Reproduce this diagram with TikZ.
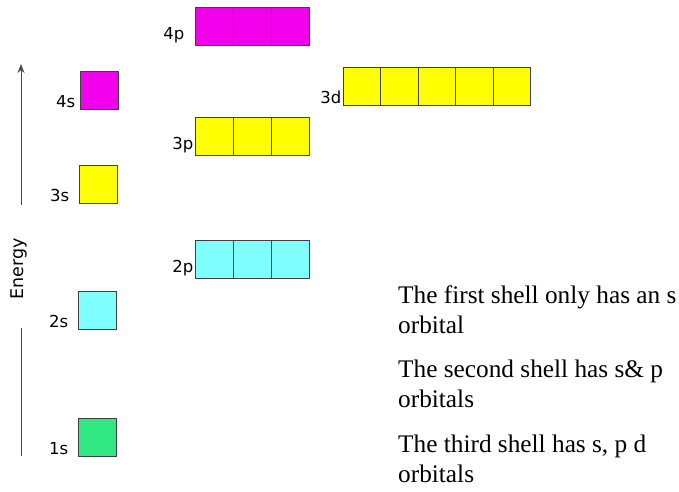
\documentclass[tikz,border=0pt]{standalone}
\usepackage{fontspec}
\setmainfont{Liberation Serif}
\newfontfamily\lblfont{DejaVu Sans}
\usetikzlibrary{arrows.meta,positioning}
\definecolor{orbgreen}{RGB}{50,232,130}
\definecolor{orbcyan}{RGB}{128,255,255}
\definecolor{orbyellow}{RGB}{255,255,0}
\definecolor{orbmagenta}{RGB}{240,0,235}
\begin{document}
\begin{tikzpicture}[
  x=1pt,y=-1pt,
  orb/.style={draw=black!75,line width=0.8pt,minimum size=38pt,inner sep=0pt,outer sep=0pt},
  lbl/.style={font=\lblfont\fontsize{16.5}{18}\selectfont,anchor=south east,inner sep=1.5pt},
  note/.style={font=\fontsize{25.3}{30}\selectfont,align=left,anchor=north west,inner sep=0pt}
]
  \useasboundingbox (0,0) rectangle (679,491);
  % Energy axis
  \node[font=\lblfont\fontsize{17.5}{19}\selectfont,rotate=90] (energy) at (19,269) {Energy};
  \coordinate (e1) at (21,456);
  \coordinate (e2) at (21,328);
  \coordinate (e3) at (21,205);
  \coordinate (e4) at (21,64);
  \draw[black!70,line width=0.9pt] (e1) -- (e2);
  \draw[black!70,line width=0.9pt,-{Stealth[length=9pt,width=7pt]}] (e3) -- (e4);
  % s orbitals
  \node[orb,fill=orbgreen] (s1) at (97,437) {};
  \node[lbl,xshift=-8pt] at (s1.south west) {1s};
  \node[orb,fill=orbcyan] (s2) at (97,310) {};
  \node[lbl,xshift=-8pt] at (s2.south west) {2s};
  \node[orb,fill=orbyellow] (s3) at (98,184) {};
  \node[lbl,xshift=-8pt] at (s3.south west) {3s};
  \node[orb,fill=orbmagenta] (s4) at (99,90) {};
  \node[lbl,xshift=-3pt] at (s4.south west) {4s};
  % p orbitals
  \foreach \i in {1,2,3} {
    \node[orb,fill=orbcyan] (p2-\i) at (195+38*\i-19,259) {};
    \node[orb,fill=orbyellow] (p3-\i) at (195+38*\i-19,136) {};
    \node[orb,fill=orbmagenta] (p4-\i) at (195+38*\i-19,26) {};
  }
  \node[lbl] at (p2-1.south west) {2p};
  \node[lbl] at (p3-1.south west) {3p};
  \node[lbl,xshift=-9pt] at (p4-1.south west) {4p};
  % d orbitals
  \foreach \i in {1,...,5}
    \node[orb,minimum width=37.5pt,fill=orbyellow] (d3-\i) at (343+37.5*\i-18.75,86) {};
  \node[lbl] at (d3-1.south west) {3d};
  % shell notes
  \node[note] (n1) at (398,285) {The first shell only has an s\\orbital};
  \node[note] (n2) at (398,360) {The second shell has s\& p\\orbitals};
  \node[note] (n3) at (398,435) {The third shell has s, p d\\orbitals};
\end{tikzpicture}
\end{document}
